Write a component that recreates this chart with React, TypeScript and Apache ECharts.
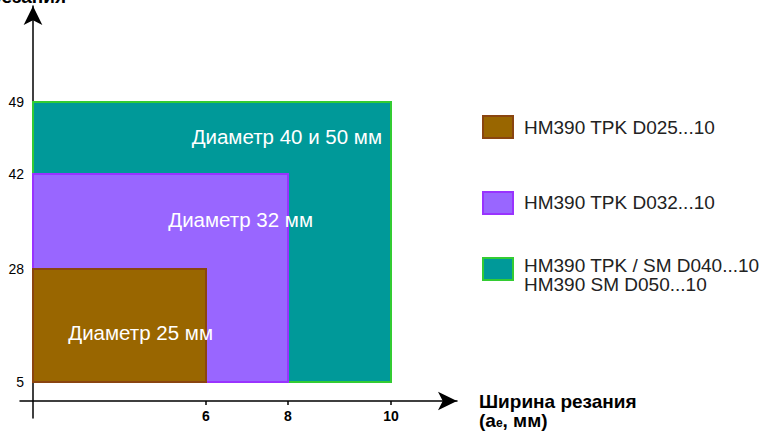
import React, { useEffect, useRef } from "react";
import * as echarts from "echarts";

// ---- data ----
const products = [
  "HM390 TPK D025...10",
  "HM390 TPK D032...10",
  "HM390 TPK / SM D040...10\nHM390 SM D050...10",
];
const diameterLabels = ["Диаметр 25 мм", "Диаметр 32 мм", "Диаметр 40 и 50 мм"];
const maxWidth = [6, 8, 10]; // ae, мм
const maxDepth = [28, 42, 49];
const minDepth = 5;
const xTickValues = [6, 8, 10];
const yTickValues = [5, 28, 42, 49];
const xAxisTitle = "Ширина резания";
const yAxisTitle = "Глубина резания";

// ---- layout / styles ----
const fills = ["#996600", "#9966ff", "#009999"];
const borders = ["#8a4510", "#9933ff", "#33cc33"];
// piecewise (non-uniform) scale of the original drawing
const xKnotsReal = [0, 6, 8, 10];
const xKnotsDisp = [0, 173, 255, 358];
const yKnotsReal = [0, 5, 28, 42, 49];
const yKnotsDisp = [0, 19, 132, 227, 299];
const labelOffsets = [
  [7, 63],
  [25, 45],
  [-9, 34],
];
const legendTops = [116, 192, 258];
const legendTextY = [127, 202, 275];
const FONT = "'Liberation Sans', Arial, Helvetica, sans-serif";

function piecewise(real: number[], disp: number[], v: number) {
  for (let i = 1; i < real.length; i++) {
    if (v <= real[i] || i === real.length - 1) {
      const t = (v - real[i - 1]) / (real[i] - real[i - 1]);
      return disp[i - 1] + t * (disp[i] - disp[i - 1]);
    }
  }
  return 0;
}
const sx = (v: number) => piecewise(xKnotsReal, xKnotsDisp, v);
const sy = (v: number) => piecewise(yKnotsReal, yKnotsDisp, v);

export default function App() {
  const ref = useRef<HTMLDivElement>(null);
  useEffect(() => {
    document.body.style.margin = "0";
    if (!ref.current) return;
    const chart = echarts.init(ref.current, null, { renderer: "svg" });
    const xLabelMap = new Map(xTickValues.map((v) => [sx(v), String(v)]));
    const yLabelMap = new Map(yTickValues.map((v) => [sy(v), String(v)]));

    const order = [2, 1, 0];
    const series = order.map((i) => ({
      type: "custom",
      name: products[i],
      data: [[sx(0), sy(minDepth), sx(maxWidth[i]), sy(maxDepth[i])]],
      encode: { x: [0, 2], y: [1, 3] },
      renderItem: (params: any, api: any) => {
        const p0 = api.coord([api.value(0), api.value(1)]);
        const p1 = api.coord([api.value(2), api.value(3)]);
        return {
          type: "group",
          children: [
            {
              type: "rect",
              shape: {
                x: p0[0],
                y: p1[1],
                width: p1[0] - p0[0],
                height: p0[1] - p1[1],
              },
              style: { fill: fills[i], stroke: borders[i], lineWidth: 2 },
            },
            {
              type: "text",
              x: p1[0] + labelOffsets[i][0],
              y: p1[1] + labelOffsets[i][1],
              style: {
                text: diameterLabels[i],
                fill: "#ffffff",
                font: `20.5px ${FONT}`,
                align: "right",
                verticalAlign: "middle",
              },
            },
          ],
        };
      },
    }));

    const legend: any[] = [];
    products.forEach((name, i) => {
      legend.push({
        type: "rect",
        shape: { x: 483, y: legendTops[i], width: 30, height: 22 },
        style: { fill: fills[i], stroke: borders[i], lineWidth: 2 },
      });
      legend.push({
        type: "text",
        x: 524,
        y: legendTextY[i],
        style: {
          text: name,
          fill: "#222222",
          font: `19px ${FONT}`,
          lineHeight: 19,
          align: "left",
          verticalAlign: "middle",
        },
      });
    });

    chart.setOption({
      animation: false,
      grid: { left: 20, right: 303, top: 6, bottom: 18, outerBoundsMode: "none", containLabel: false },
      xAxis: {
        type: "value",
        min: -13,
        max: 424,
        offset: -17,
        axisLine: {
          onZero: false,
          symbol: ["none", "arrow"],
          symbolSize: [14, 19],
          lineStyle: { color: "#000", width: 1.5 },
        },
        axisTick: {
          show: true,
          customValues: xTickValues.map(sx),
          length: 4,
          lineStyle: { color: "#000", width: 1.5 },
        },
        axisLabel: {
          customValues: xTickValues.map(sx),
          formatter: (v: number) => xLabelMap.get(v) ?? "",
          color: "#000",
          fontFamily: FONT,
          fontSize: 14,
          fontWeight: "bold",
          margin: 8,
        },
        splitLine: { show: false },
      },
      yAxis: {
        type: "value",
        min: -17,
        max: 395,
        offset: -13,
        axisLine: {
          onZero: false,
          symbol: ["none", "arrow"],
          symbolSize: [14, 19],
          lineStyle: { color: "#000", width: 1.5 },
        },
        axisTick: { show: false },
        axisLabel: {
          customValues: yTickValues.map(sy),
          formatter: (v: number) => yLabelMap.get(v) ?? "",
          color: "#000",
          fontFamily: FONT,
          fontSize: 14,
          margin: 9,
        },
        splitLine: { show: false },
      },
      graphic: [
        ...legend,
        {
          type: "text",
          x: 479,
          y: 411,
          style: {
            text: `{b|${xAxisTitle}}\n{b|(a}{s|e}{b|, мм)}`,
            align: "left",
            verticalAlign: "middle",
            rich: {
              b: { font: `bold 19px ${FONT}`, fill: "#000", lineHeight: 19 },
              s: { font: `bold 12px ${FONT}`, fill: "#000", lineHeight: 19, padding: [4, 0, 0, 0] },
            },
          },
        },
        {
          type: "text",
          x: 66,
          y: -4,
          style: {
            text: yAxisTitle,
            font: `bold 19px ${FONT}`,
            fill: "#000",
            align: "right",
            verticalAlign: "middle",
          },
        },
      ],
      series,
    });
    return () => chart.dispose();
  }, []);
  return <div ref={ref} style={{ width: 760, height: 436 }} />;
}
